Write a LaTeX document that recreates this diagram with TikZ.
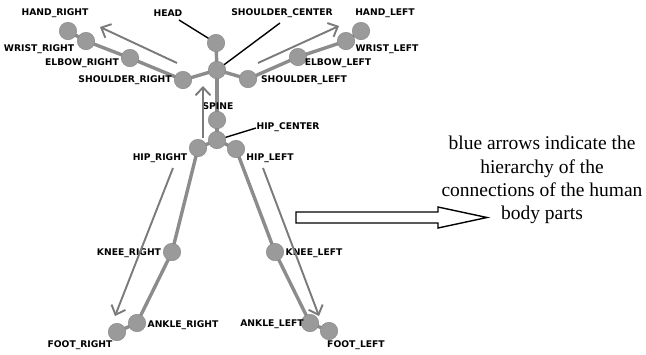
\documentclass[tikz,border=0pt]{standalone}
\usepackage{fontspec}
\setmainfont{Liberation Serif}
\newfontfamily\lblfont{DejaVu Sans}
\usetikzlibrary{arrows.meta}
\pgfdeclarelayer{bg}
\pgfsetlayers{bg,main}
\definecolor{jointgray}{HTML}{9A9A9A}
\definecolor{bonegray}{HTML}{8C8C8C}
\definecolor{flowgray}{HTML}{7A7A7A}
\tikzset{
  joint/.style={circle, fill=jointgray, draw=jointgray!85!black, line width=0.4pt, inner sep=0pt, minimum size=17.5pt},
  bone/.style={line width=3.4pt, draw=bonegray},
  flow/.style={line width=1.9pt, draw=flowgray, -{Straight Barb[length=8pt,width=15pt,line width=1.9pt]}},
  lbl/.style={font=\lblfont\bfseries\fontsize{9.2}{10}\selectfont, inner sep=0pt, text=black},
  pointer/.style={line width=1.4pt, draw=black},
  note/.style={font=\fontsize{19.5}{23.3}\selectfont, align=center, inner sep=0pt}
}
\begin{document}
\begin{tikzpicture}[x=1pt,y=-1pt]
\begin{pgfonlayer}{bg}
\fill[white] (0,0) rectangle (646,354);
\end{pgfonlayer}
\useasboundingbox (0,0) rectangle (646,354);
% joints
\node[joint] (head) at (216,43) {};
\node[joint] (sc) at (217,70) {};
\node[joint] (sl) at (248,79) {};
\node[joint] (el) at (298,57) {};
\node[joint] (wl) at (346,41) {};
\node[joint] (hl) at (361,31) {};
\node[joint] (sr) at (183,80) {};
\node[joint] (er) at (130,58) {};
\node[joint] (wr) at (86,41) {};
\node[joint] (hr) at (68,31) {};
\node[joint] (spine) at (217,120) {};
\node[joint] (hc) at (217,140) {};
\node[joint] (hipr) at (198,148) {};
\node[joint] (hipl) at (236,149) {};
\node[joint] (kr) at (172,252) {};
\node[joint] (ar) at (137,323) {};
\node[joint] (fr) at (117,332) {};
\node[joint] (kl) at (275,252) {};
\node[joint] (al) at (310,323) {};
\node[joint] (fl) at (329,331) {};
% bones
\begin{pgfonlayer}{bg}
\draw[bone] (head.center) -- (sc.center);
\draw[bone] (sr.center) -- (sc.center) -- (sl.center);
\draw[bone] (sc.center) -- (spine.center) -- (hc.center);
\draw[bone] (sl.center) -- (el.center) -- (wl.center) -- (hl.center);
\draw[bone] (sr.center) -- (er.center) -- (wr.center) -- (hr.center);
\draw[bone] (hipr.center) -- (hc.center) -- (hipl.center);
\draw[bone] (hipr.center) -- (kr.center) -- (ar.center) -- (fr.center);
\draw[bone] (hipl.center) -- (kl.center) -- (al.center) -- (fl.center);
\end{pgfonlayer}
% labels
\node[lbl] (lhr) at (55,13) {HAND\_RIGHT};
\node[lbl] (lhead) at (168,13) {HEAD};
\node[lbl] (lsc) at (282,13) {SHOULDER\_CENTER};
\node[lbl] (lhl) at (385,13) {HAND\_LEFT};
\node[lbl] (lwr) at (39,49) {WRIST\_RIGHT};
\node[lbl] (ler) at (82,63) {ELBOW\_RIGHT};
\node[lbl] (lsr) at (125,80) {SHOULDER\_RIGHT};
\node[lbl] (lwl) at (387,49) {WRIST\_LEFT};
\node[lbl] (lel) at (338,63) {ELBOW\_LEFT};
\node[lbl] (lsl) at (304,80) {SHOULDER\_LEFT};
\node[lbl] (lspine) at (218,106) {SPINE};
\node[lbl] (lhc) at (288,127) {HIP\_CENTER};
\node[lbl] (lhipr) at (160,158) {HIP\_RIGHT};
\node[lbl] (lhipl) at (270,158) {HIP\_LEFT};
\node[lbl] (lkr) at (129,253) {KNEE\_RIGHT};
\node[lbl] (lar) at (183,325) {ANKLE\_RIGHT};
\node[lbl] (lfr) at (80,345) {FOOT\_RIGHT};
\node[lbl] (lkl) at (314,253) {KNEE\_LEFT};
\node[lbl] (lal) at (272,324) {ANKLE\_LEFT};
\node[lbl] (lfl) at (356,345) {FOOT\_LEFT};
% pointer lines
\coordinate (phead) at (179,20);
\coordinate (psc) at (280,23);
\coordinate (phc) at (256,128);
\draw[pointer] (phead) -- (head);
\draw[pointer] (psc) -- (sc);
\draw[pointer] (phc) -- (hc);
% hierarchy arrows
\coordinate (ra0) at (177,63); \coordinate (ra1) at (100,27);
\coordinate (la0) at (258,63); \coordinate (la1) at (339,26);
\coordinate (sa0) at (203,138); \coordinate (sa1) at (203,86);
\coordinate (rl0) at (173,168); \coordinate (rl1) at (115,316);
\coordinate (ll0) at (263,168); \coordinate (ll1) at (319,316);
\draw[flow] (ra0) -- (ra1);
\draw[flow] (la0) -- (la1);
\draw[flow] (sa0) -- (sa1);
\draw[flow] (rl0) -- (rl1);
\draw[flow] (ll0) -- (ll1);
% big hollow arrow
\draw[line width=1.4pt, line join=miter] (296,212) -- (438,212) -- (438,207) -- (487,217.5) -- (438,228) -- (438,223) -- (296,223) -- cycle;
% note
\node[note] (note) at (542,180) {blue arrows indicate the\\hierarchy of the\\connections of the human\\body parts};
\end{tikzpicture}
\end{document}
